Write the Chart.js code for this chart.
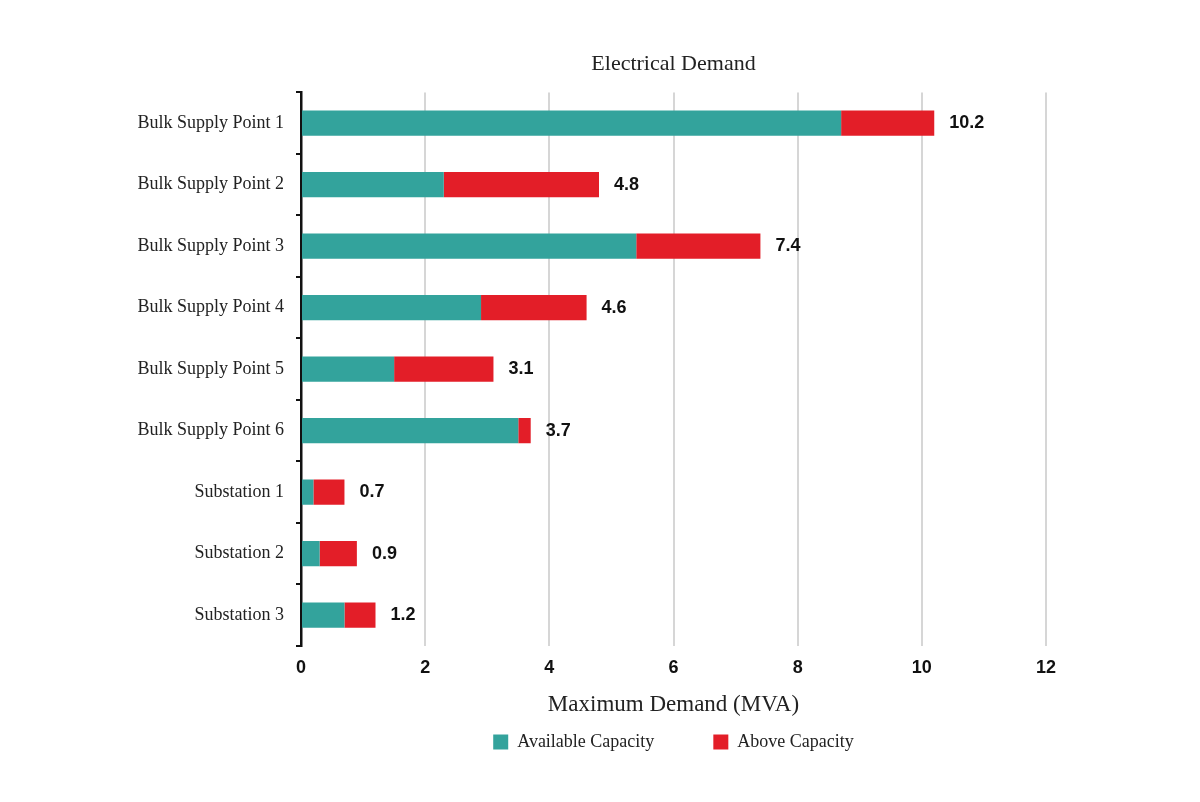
<!DOCTYPE html>
<html>
<head>
<meta charset="utf-8">
<script src="https://cdn.jsdelivr.net/npm/chart.js@4/dist/chart.umd.min.js"></script>
<style>
  html, body { margin: 0; padding: 0; background: #fff; }
  #wrap { width: 1200px; height: 802px; }
</style>
</head>
<body>
<div id="wrap"><canvas id="demandChart" width="1200" height="802"></canvas></div>
<script>
// chart data
const categories = ['Bulk Supply Point 1', 'Bulk Supply Point 2', 'Bulk Supply Point 3',
    'Bulk Supply Point 4', 'Bulk Supply Point 5', 'Bulk Supply Point 6',
    'Substation 1', 'Substation 2', 'Substation 3'];
const availableCapacity = [8.7, 2.3, 5.4, 2.9, 1.5, 3.5, 0.2, 0.3, 0.7];
const aboveCapacity = [1.5, 2.5, 2.0, 1.7, 1.6, 0.2, 0.5, 0.6, 0.5];
const xTicks = [0, 2, 4, 6, 8, 10, 12];

const serif = '"Liberation Serif", "Times New Roman", serif';
const sans = '"Liberation Sans", Arial, sans-serif';

// Draws the total at the end of each bar
const totalLabels = {
    id: 'totalLabels',
    afterDatasetsDraw(chart) {
        const ctx = chart.ctx;
        const xs = chart.scales.x;
        const ys = chart.scales.y;
        ctx.save();
        ctx.font = 'bold 18px ' + sans;
        ctx.fillStyle = '#111';
        ctx.textAlign = 'left';
        ctx.textBaseline = 'middle';
        categories.forEach((c, i) => {
            const total = availableCapacity[i] + aboveCapacity[i];
            ctx.fillText(total.toFixed(1), xs.getPixelForValue(total) + 15, ys.getPixelForValue(i));
        });
        ctx.restore();
    }
};

const ctx = document.getElementById('demandChart').getContext('2d');
new Chart(ctx, {
    type: 'bar',
    data: {
        labels: categories,
        datasets: [{
            label: 'Available Capacity',
            data: availableCapacity,
            backgroundColor: '#33a39c',
            barPercentage: 0.82,
            categoryPercentage: 0.5
        }, {
            label: 'Above Capacity',
            data: aboveCapacity,
            backgroundColor: '#e31e28',
            barPercentage: 0.82,
            categoryPercentage: 0.5
        }]
    },
    options: {
        indexAxis: 'y',
        responsive: false,
        animation: false,
        layout: { padding: { top: 40, right: 154, bottom: 41, left: 0 } },
        scales: {
            x: {
                stacked: true,
                min: 0,
                max: 12,
                afterBuildTicks: scale => { scale.ticks = xTicks.map(v => ({ value: v })); },
                border: { display: false },
                grid: {
                    color: ctx => ctx.tick && ctx.tick.value === 0 ? 'rgba(0,0,0,0)' : '#d6d6d6',
                    lineWidth: 2,
                    drawTicks: false
                },
                ticks: {
                    padding: 11,
                    color: '#111',
                    font: { family: sans, size: 18, weight: 'bold' }
                },
                title: {
                    display: true,
                    text: 'Maximum Demand (MVA)',
                    color: '#222',
                    font: { family: serif, size: 23 },
                    padding: { top: 2, bottom: 0 }
                }
            },
            y: {
                stacked: true,
                afterFit: scale => { scale.width = 301; },
                border: { display: true, color: '#111', width: 2.5 },
                grid: {
                    drawOnChartArea: false,
                    color: '#111',
                    lineWidth: 2,
                    tickLength: 5
                },
                ticks: {
                    padding: 12,
                    color: '#222',
                    font: { family: serif, size: 18 }
                }
            }
        },
        plugins: {
            title: {
                display: true,
                text: 'Electrical Demand',
                fullSize: false,
                color: '#222',
                font: { family: serif, size: 22, weight: 'normal' },
                padding: { top: 11, bottom: 15 }
            },
            legend: {
                position: 'bottom',
                fullSize: false,
                labels: {
                    boxWidth: 15,
                    boxHeight: 15,
                    padding: 14,
                    color: '#222',
                    font: { family: serif, size: 18 },
                    generateLabels: chart => {
                        const items = Chart.defaults.plugins.legend.labels.generateLabels(chart);
                        items.forEach((it, i) => {
                            it.lineWidth = 0;
                            if (i < items.length - 1) it.text = it.text + '\u2003\u2003\u2002';
                        });
                        return items;
                    }
                }
            },
            tooltip: { enabled: false }
        }
    },
    plugins: [totalLabels]
});
</script>
</body>
</html>
